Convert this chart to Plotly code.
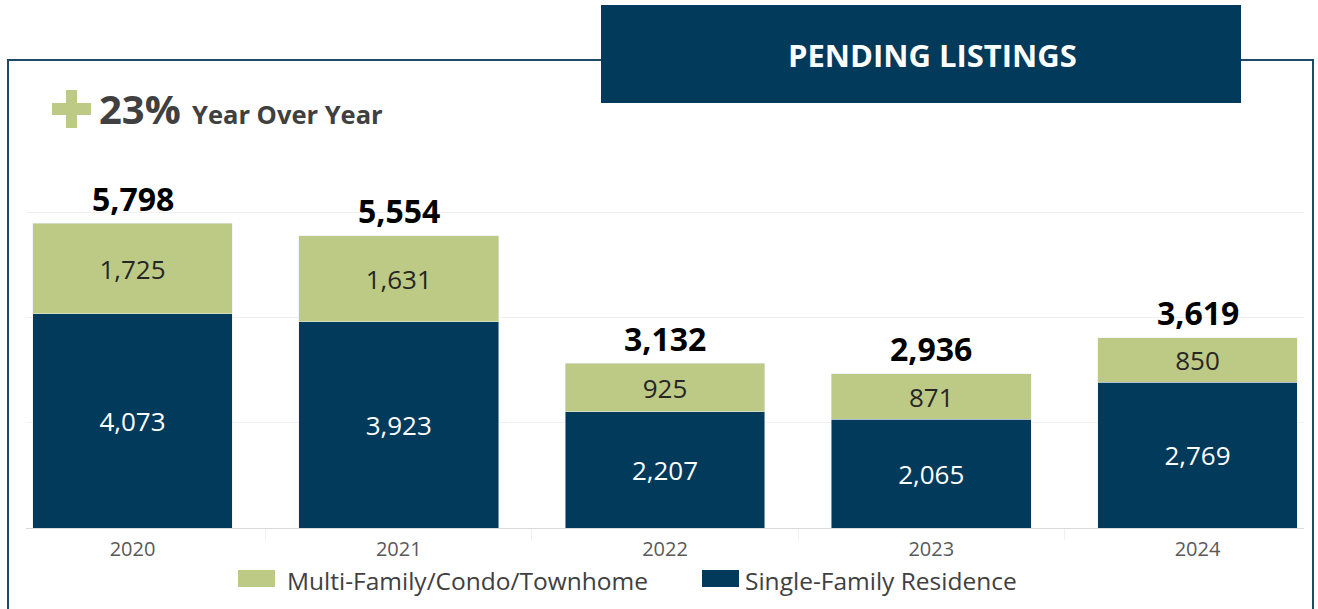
import plotly.graph_objects as go

years = ['2020', '2021', '2022', '2023', '2024']
single_family = [4073, 3923, 2207, 2065, 2769]
multi_family = [1725, 1631, 925, 871, 850]
totals = [5798, 5554, 3132, 2936, 3619]

DARK = '#023a5b'
GREEN = '#bdca85'
FONT = 'Open Sans'

W, H = 1318, 609
ML, MR, MT, MB = 26, 14, 181, 81
PW, PH = W - ML - MR, H - MT - MB


# helpers to place decorations by pixel position
def px(x):
    return (x - ML) / PW


def py(y):
    return (H - MB - y) / PH


fig = go.Figure()

fig.add_trace(go.Bar(
    x=years, y=single_family, name='Single-Family Residence',
    marker_color=DARK,
    text=[f'{v:,}' for v in single_family],
    textposition='inside', insidetextanchor='middle',
    textfont=dict(color='white', size=26, family=FONT),
))
fig.add_trace(go.Bar(
    x=years, y=multi_family, name='Multi-Family/Condo/Townhome',
    marker_color=GREEN,
    text=[f'{v:,}' for v in multi_family],
    textposition='inside', insidetextanchor='middle',
    textfont=dict(color='#262626', size=26, family=FONT),
))

# totals above each stack (category index on the x axis)
annotations = [
    dict(text=f'<b>{t:,}</b>', x=i, y=t, xref='x', yref='y',
         yanchor='middle', yshift=25, showarrow=False,
         font=dict(color='black', size=32, family=FONT))
    for i, t in enumerate(totals)
]

shapes = [
    # outer frame
    dict(type='rect', xref='paper', yref='paper',
         x0=px(8), x1=px(1313), y0=py(625), y1=py(60),
         line=dict(color='#1b4b69', width=2), layer='below'),
    # title box
    dict(type='rect', xref='paper', yref='paper',
         x0=px(601), x1=px(1241), y0=py(103), y1=py(5),
         fillcolor='#023a5b', line=dict(width=0)),
    # plus sign
    dict(type='rect', xref='paper', yref='paper',
         x0=px(52), x1=px(91), y0=py(115), y1=py(103),
         fillcolor=GREEN, line=dict(width=0)),
    dict(type='rect', xref='paper', yref='paper',
         x0=px(66), x1=px(77), y0=py(128), y1=py(90),
         fillcolor=GREEN, line=dict(width=0)),
    # legend swatches
    dict(type='rect', xref='paper', yref='paper',
         x0=px(238), x1=px(275), y0=py(587), y1=py(570),
         fillcolor=GREEN, line=dict(width=0)),
    dict(type='rect', xref='paper', yref='paper',
         x0=px(702), x1=px(739), y0=py(587), y1=py(570),
         fillcolor=DARK, line=dict(width=0)),
]

annotations += [
    dict(text='<b>PENDING LISTINGS</b>', x=px(932), y=py(55),
         xref='paper', yref='paper', xanchor='center', yanchor='middle', showarrow=False,
         font=dict(color='white', size=31, family=FONT)),
    dict(text='<b>23%</b>', x=px(97), y=py(109),
         xref='paper', yref='paper', xanchor='left', yanchor='middle', showarrow=False,
         font=dict(color='#404040', size=40, family=FONT)),
    dict(text='<b>Year Over Year</b>', x=px(190), y=py(114),
         xref='paper', yref='paper', xanchor='left', yanchor='middle', showarrow=False,
         font=dict(color='#404040', size=25.5, family=FONT)),
    dict(text='Multi-Family/Condo/Townhome', x=px(285), y=py(580),
         xref='paper', yref='paper', xanchor='left', yanchor='middle', showarrow=False,
         font=dict(color='#404040', size=24.5, family=FONT)),
    dict(text='Single-Family Residence', x=px(743), y=py(580),
         xref='paper', yref='paper', xanchor='left', yanchor='middle', showarrow=False,
         font=dict(color='#404040', size=24.5, family=FONT)),
]

fig.update_layout(
    width=W, height=H,
    margin=dict(l=ML, r=MR, t=MT, b=MB),
    barmode='stack', bargap=0.25,
    plot_bgcolor='white', paper_bgcolor='white',
    font=dict(family=FONT),
    shapes=shapes,
    annotations=annotations,
    showlegend=False,
    xaxis=dict(
        type='category',
        range=[-0.4, 4.4],
        showline=True, linecolor='#d9d9d9', linewidth=1,
        ticks='outside', tickson='boundaries', ticklen=11, tickcolor='#f0f0f0',
        ticklabelstandoff=3,
        tickfont=dict(size=20, color='#595959', family=FONT),
        showgrid=False,
    ),
    yaxis=dict(
        range=[0, 6600],
        tickvals=[2000, 4000, 6000],
        showticklabels=False,
        gridcolor='#f0f0f0', gridwidth=1,
        zeroline=False,
    ),
)

# drop the page's default body margin so the figure sits at the window's corner
fig.write_html('out.html', config={'displayModeBar': False},
               post_script="document.body.style.margin='0';")
